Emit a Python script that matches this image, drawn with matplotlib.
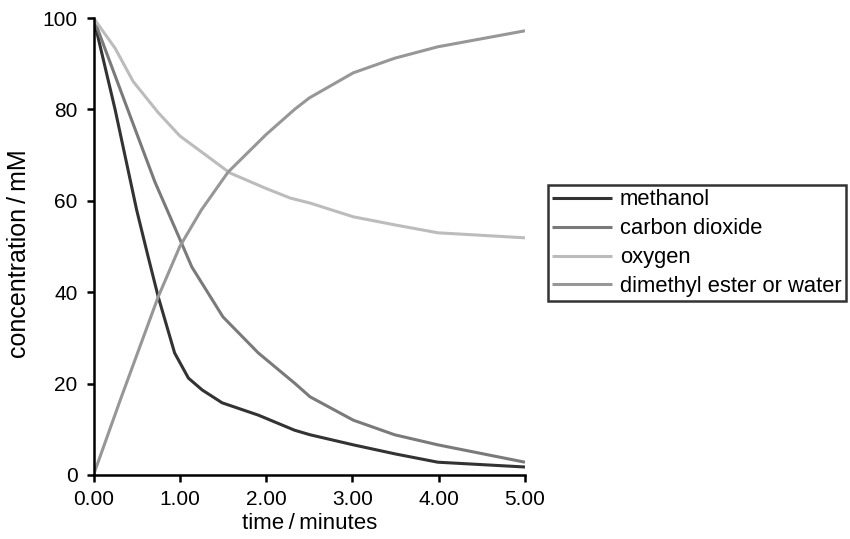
import matplotlib
matplotlib.use("Agg")
import matplotlib.pyplot as plt

plt.rcParams['font.family'] = ['Liberation Sans', 'DejaVu Sans']

t_methanol = [0, 0.25, 0.5, 0.63, 0.75, 0.94, 1.1, 1.26, 1.49, 1.91, 2.33, 2.51, 3.01, 3.5, 3.99, 5.0]
methanol = [100, 80, 58, 48, 39, 26.7, 21.2, 18.6, 15.8, 13.1, 9.8, 8.8, 6.6, 4.6, 2.8, 1.75]

t_co2 = [0, 0.42, 0.71, 0.98, 1.14, 1.5, 1.91, 2.33, 2.51, 3.01, 3.49, 3.99, 5.0]
co2 = [100, 78.8, 64.2, 52.5, 45.5, 34.6, 26.7, 20.1, 17.1, 12.0, 8.8, 6.6, 2.8]

t_oxygen = [0, 0.25, 0.46, 0.75, 1.0, 1.23, 1.58, 2.0, 2.28, 2.51, 3.01, 3.5, 3.99, 5.0]
oxygen = [100, 93.4, 86.1, 79.3, 74.2, 71.0, 66.1, 62.7, 60.6, 59.5, 56.5, 54.7, 53.0, 51.9]

t_ester = [0, 0.31, 0.75, 1.0, 1.25, 1.56, 2.0, 2.33, 2.5, 3.01, 3.49, 3.99, 5.0]
ester = [0, 16.4, 39, 50, 58, 66.3, 74.5, 80, 82.5, 88, 91.2, 93.7, 97.2]

labels = ['methanol', 'carbon dioxide', 'oxygen', 'dimethyl ester or water']
colors = ['#333333', '#7a7a7a', '#bcbcbc', '#979797']
xticks = [0, 1, 2, 3, 4, 5]
xticklabels = ['0.00', '1.00', '2.00', '3.00', '4.00', '5.00']
yticks = [0, 20, 40, 60, 80, 100]
xlabel = 'time\u2009/\u2009minutes'
ylabel = 'concentration\u2009/\u2009mM'

W, H = 850, 539
fig = plt.figure(figsize=(W / 100, H / 100), dpi=100)
ax = fig.add_axes([93.5 / W, (H - 475) / H, (525 - 93.5) / W, (475 - 18) / H])

series = [(t_methanol, methanol), (t_co2, co2), (t_oxygen, oxygen), (t_ester, ester)]
for (t, v), lab, c in zip(series, labels, colors):
    ax.plot(t, v, color=c, lw=2.2, label=lab, solid_joinstyle='round', solid_capstyle='butt')

ax.set_xlim(0, 5)
ax.set_ylim(0, 100)
ax.set_xticks(xticks)
ax.set_xticklabels(xticklabels)
ax.set_yticks(yticks)
for s in ['top', 'right']:
    ax.spines[s].set_visible(False)
for s in ['left', 'bottom']:
    ax.spines[s].set_linewidth(1.8)
    ax.spines[s].set_color('black')
ax.tick_params(direction='out', length=5, width=1.8, labelsize=15, colors='black')
ax.tick_params(axis='x', pad=6)
ax.tick_params(axis='y', pad=6.5)
ax.set_xlabel(xlabel, fontsize=16, labelpad=3)
ax.set_ylabel(ylabel, fontsize=18, va='center')
ax.yaxis.set_label_coords((19 - 93.5) / (525 - 93.5), (475 - 254) / (475 - 18))

leg = fig.legend(loc='upper left', bbox_to_anchor=(548 / W, 1 - 185 / H), fontsize=15.8,
                 frameon=True, fancybox=False, edgecolor='black', handlelength=2.7,
                 handletextpad=0.37, borderpad=0.2, labelspacing=0.36, borderaxespad=0)
leg.get_frame().set_linewidth(1.8)

fig.savefig('out.png', dpi=100)
